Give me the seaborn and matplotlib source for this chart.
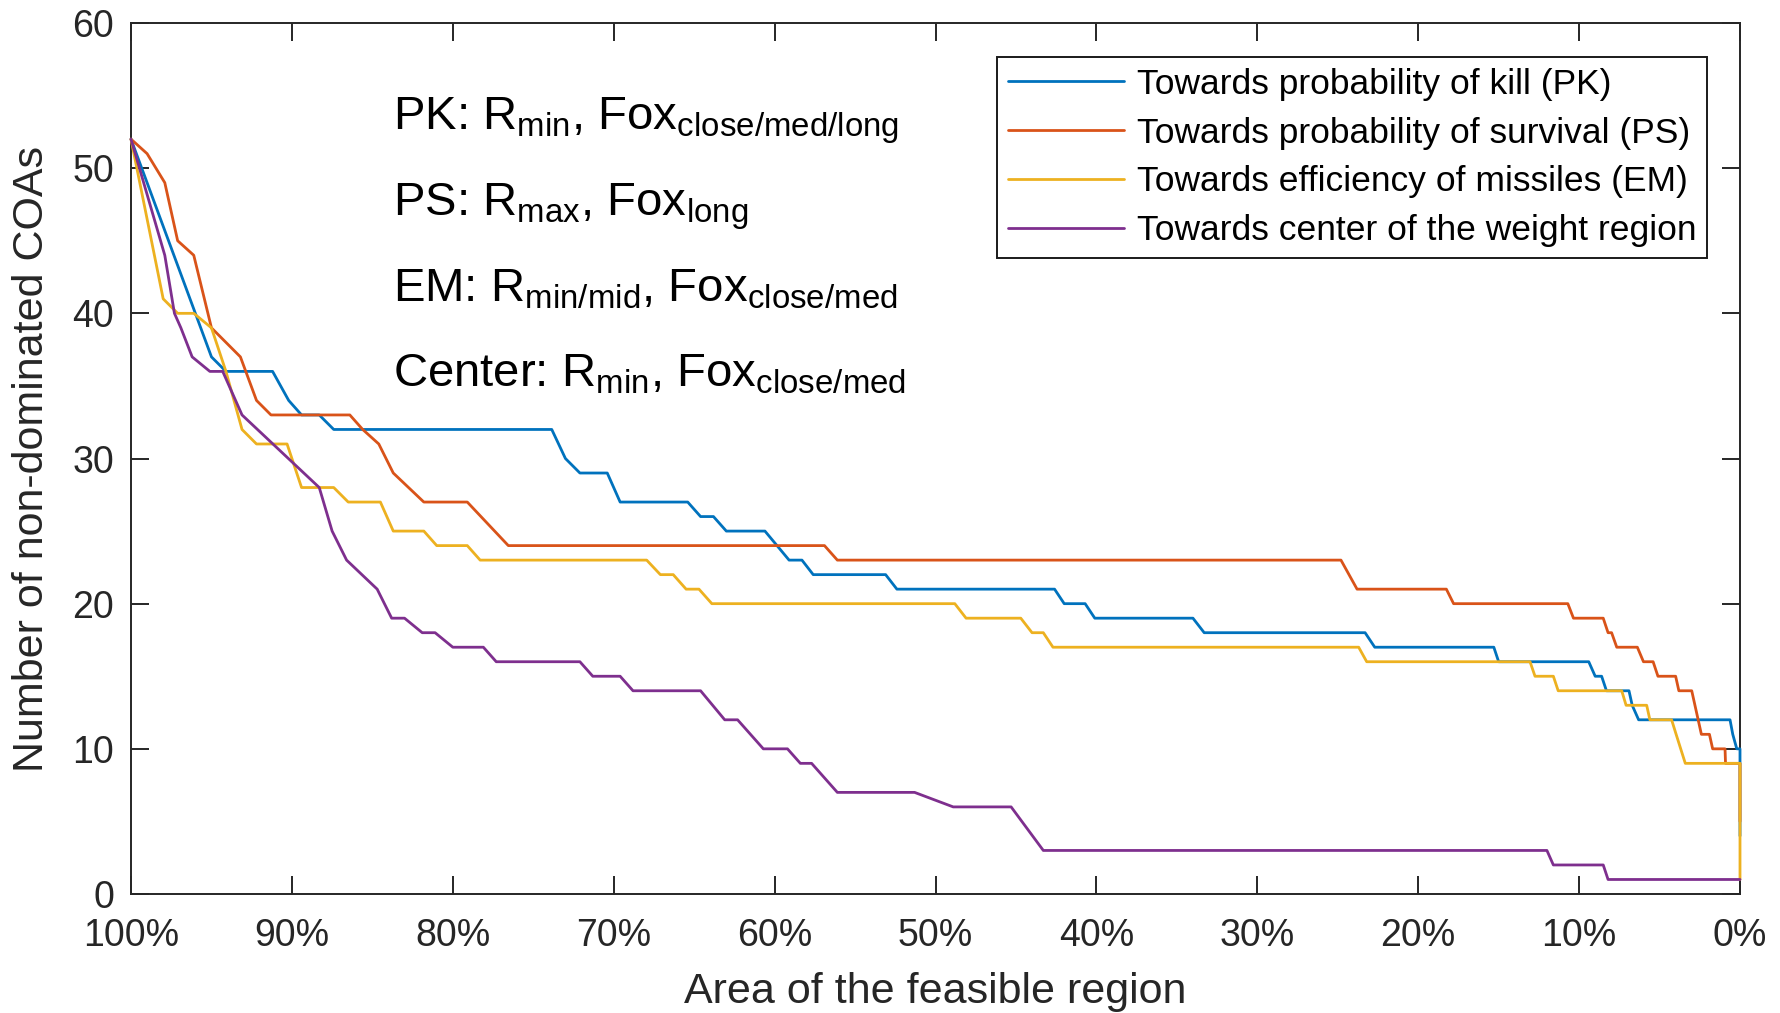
import matplotlib
matplotlib.use("Agg")
import matplotlib.pyplot as plt
import numpy as np
import pandas as pd
import seaborn as sns
from matplotlib.lines import Line2D

# ---------------- data ----------------
series_names = [
    "Towards probability of kill (PK)",
    "Towards probability of survival (PS)",
    "Towards efficiency of missiles (EM)",
    "Towards center of the weight region",
]

pk_x = [100, 95, 94.1, 91.2, 90.2, 89.4, 88.3, 87.4, 73.85, 73.0, 72.1, 70.4, 69.6, 65.4, 64.6,
        63.8, 63.0, 60.6, 59.1, 58.3, 57.6, 53.1, 52.4, 42.6, 42.0, 40.7, 40.1, 34.0, 33.3, 23.3,
        22.7, 15.3, 15.0, 9.4, 9.0, 8.6, 8.3, 6.9, 6.7, 6.3, 0.62, 0.45, 0.2, 0, 0]
pk_y = [52, 37, 36, 36, 34, 33, 33, 32, 32, 30, 29, 29, 27, 27, 26,
        26, 25, 25, 23, 23, 22, 22, 21, 21, 20, 20, 19, 19, 18, 18,
        17, 17, 16, 16, 15, 15, 14, 14, 13, 12, 12, 11, 10, 10, 4]

ps_x = [100, 99.0, 97.9, 97.1, 96.1, 95.0, 93.2, 92.2, 91.3, 86.4, 85.6, 84.6, 83.7, 81.8, 79.1,
        76.55, 56.9, 56.1, 24.8, 23.8, 18.25, 17.8, 10.7, 10.35, 8.5, 8.2, 7.98, 7.66, 6.38, 6.0,
        5.4, 5.1, 4.0, 3.8, 3.0, 2.6, 2.4, 1.9, 1.7, 0.93, 0.9, 0, 0]
ps_y = [52, 51, 49, 45, 44, 39, 37, 34, 33, 33, 32, 31, 29, 27, 27,
        24, 24, 23, 23, 21, 21, 20, 20, 19, 19, 18, 18, 17, 17, 16,
        16, 15, 15, 14, 14, 12, 11, 11, 10, 10, 9, 9, 5]

em_x = [100, 98.0, 97.1, 96.1, 95.0, 94.1, 93.1, 92.2, 90.3, 89.4, 87.4, 86.5, 84.5, 83.7, 81.8,
        81.0, 79.1, 78.3, 67.95, 67.1, 66.3, 65.5, 64.7, 63.9, 48.8, 48.1, 44.7, 44.0, 43.3, 42.7,
        23.7, 23.2, 13.05, 12.74, 11.6, 11.3, 7.35, 7.08, 5.8, 5.6, 4.25, 3.97, 3.4, 0, 0]
em_y = [52, 41, 40, 40, 39, 36, 32, 31, 31, 28, 28, 27, 27, 25, 25,
        24, 24, 23, 23, 22, 22, 21, 21, 20, 20, 19, 19, 18, 18, 17,
        17, 16, 16, 15, 15, 14, 14, 13, 13, 12, 12, 11, 9, 9, 1]

ce_x = [100, 97.9, 97.3, 96.9, 96.2, 95.1, 94.3, 93.1, 88.3, 87.5, 86.6, 84.7, 83.8, 83.0, 81.9,
        81.1, 80.0, 78.1, 77.3, 72.1, 71.3, 69.6, 68.8, 64.6, 63.1, 62.3, 60.7, 59.2, 58.4, 57.7,
        56.1, 51.3, 48.9, 45.3, 43.3, 12.0, 11.6, 8.5, 8.2, 0]
ce_y = [52, 44, 40, 39, 37, 36, 36, 33, 28, 25, 23, 21, 19, 19, 18,
        18, 17, 17, 16, 16, 15, 15, 14, 14, 12, 12, 10, 10, 9, 9,
        7, 7, 6, 6, 3, 3, 2, 2, 1, 1]

x_ticks = [100, 90, 80, 70, 60, 50, 40, 30, 20, 10, 0]
x_tick_labels = [f"{t}%" for t in x_ticks]
y_ticks = [0, 10, 20, 30, 40, 50, 60]

annotations = [
    r"PK: $\mathregular{R_{min}}$, $\mathregular{Fox_{close/med/long}}$",
    r"PS: $\mathregular{R_{max}}$, $\mathregular{Fox_{long}}$",
    r"EM: $\mathregular{R_{min/mid}}$, $\mathregular{Fox_{close/med}}$",
    r"Center: $\mathregular{R_{min}}$, $\mathregular{Fox_{close/med}}$",
]

colors = ["#0072BD", "#D95319", "#EDB120", "#7E2F8E"]

# ---------------- build long-form table ----------------
frames = []
for name, xs, ys in zip(series_names, [pk_x, ps_x, em_x, ce_x], [pk_y, ps_y, em_y, ce_y]):
    frames.append(pd.DataFrame({"area": xs, "count": ys, "series": name}))
df = pd.concat(frames, ignore_index=True)

# ---------------- styling ----------------
sns.set_theme(style="white")
plt.rcParams["font.family"] = ["Liberation Sans", "DejaVu Sans"]
plt.rcParams["mathtext.fontset"] = "custom"
plt.rcParams["mathtext.rm"] = "Liberation Sans"
plt.rcParams["mathtext.it"] = "Liberation Sans:italic"
plt.rcParams["mathtext.bf"] = "Liberation Sans:bold"

W, H = 1781, 1013
fig = plt.figure(figsize=(W / 100, H / 100), dpi=100)
fig.patch.set_facecolor("white")
ax = fig.add_axes([131 / W, 1 - 894 / H, 1609 / W, 871 / H])

sns.lineplot(data=df, x="area", y="count", hue="series", hue_order=series_names,
             palette=colors, sort=False, estimator=None, units="series",
             linewidth=2.0, ax=ax, legend=False)
for ln in ax.get_lines():
    ln.set_clip_on(False)
    ln.set_zorder(3)

ax.set_xlim(100, 0)
ax.set_ylim(0, 60)
ax.set_xticks(x_ticks)
ax.set_xticklabels(x_tick_labels)
ax.set_yticks(y_ticks)

dark = "#262626"
for sp in ax.spines.values():
    sp.set_visible(True)
    sp.set_color(dark)
    sp.set_linewidth(1.4)
    sp.set_zorder(2.5)

ax.tick_params(axis="both", which="major", direction="in", length=13, width=1.4,
               color=dark, labelcolor=dark, labelsize=27, top=True, right=True,
               bottom=True, left=True)
ax.tick_params(axis="x", pad=17)
ax.tick_params(axis="y", pad=12)

ax.set_xlabel("Area of the feasible region", fontsize=31, color=dark)
ax.xaxis.label.set_va("baseline")
ax.xaxis.set_label_coords(0.5, (894 - 1003) / 871)
ax.set_ylabel("Number of non-dominated COAs", fontsize=31, color=dark)
ax.yaxis.label.set_va("center")
ax.yaxis.set_label_coords((32 - 131) / 1609, 0.5)

# legend
handles = [Line2D([0], [0], color=c, linewidth=2.0) for c in colors]
leg = ax.legend(handles, series_names, loc="upper right",
                bbox_to_anchor=(0.9795, 0.961), borderaxespad=0, fontsize=25.5,
                frameon=True, fancybox=False, framealpha=1, edgecolor="#1a1a1a",
                handlelength=3.3, handletextpad=0.35, labelspacing=0.45,
                borderpad=0.3)
leg.get_frame().set_linewidth(1.4)
for t in leg.get_texts():
    t.set_color("black")

# annotation block
ann_y = [(894 - 130) / 871, (894 - 215) / 871, (894 - 301.7) / 871, (894 - 386.7) / 871]
for txt, yy in zip(annotations, ann_y):
    ax.text((393 - 131) / 1609, yy, txt, transform=ax.transAxes, fontsize=34,
            va="baseline", ha="left", color="black")

fig.savefig("out.png", dpi=100, facecolor="white")
